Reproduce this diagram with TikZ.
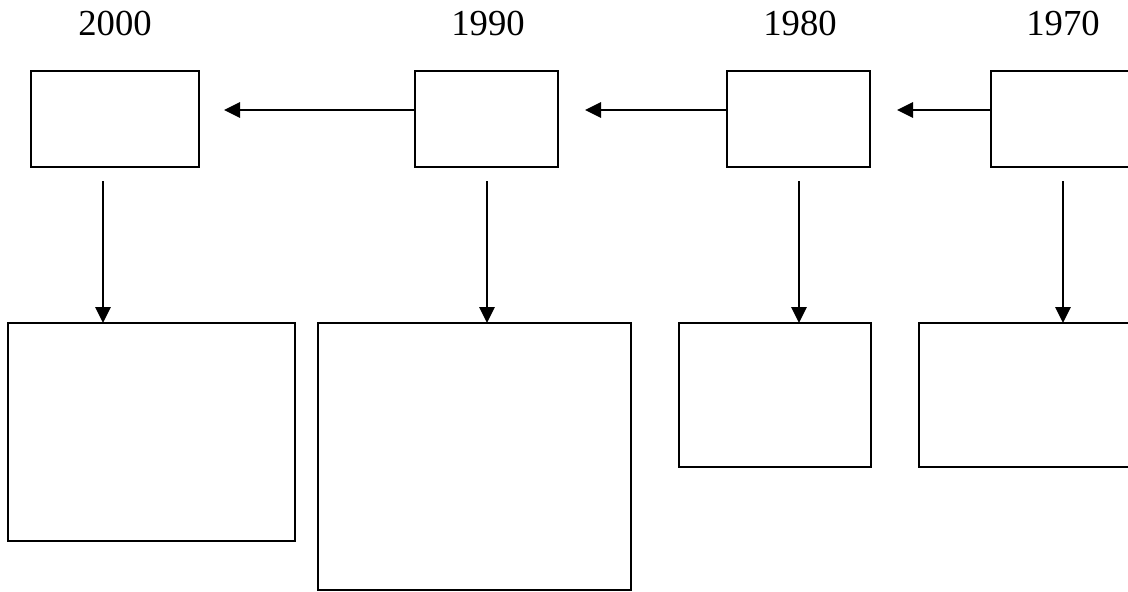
\documentclass[tikz,border=0pt]{standalone}
\usepackage{fontspec}
\setmainfont{Liberation Serif}
\usetikzlibrary{arrows.meta,positioning}
\tikzset{
	box/.style={draw,line width=1.4pt,inner sep=0pt,outer sep=0pt,minimum height=72pt},
	yr/.style={anchor=base,font=\fontsize{27.5}{30}\selectfont},
	arr/.style={line width=1.4pt,-{Triangle[length=12pt,width=11.5pt]}}
}
\begin{document}
\begin{tikzpicture}[x=0.75pt,y=-0.75pt]
\useasboundingbox (0,0) rectangle (1128,592);
\clip (0,0) rectangle (1128,592);
% top row
\node[box,minimum width=126pt] (t2000) at (115,119) {};
\node[box,minimum width=107.25pt] (t1990) at (486.5,119) {};
\node[box,minimum width=107.25pt] (t1980) at (798.5,119) {};
\node[box,minimum width=107.25pt] (t1970) at (1062.5,119) {};
% years
\node[yr] (y2000) at (115,36) {2000};
\node[yr] (y1990) at (488,36) {1990};
\node[yr] (y1980) at (800,36) {1980};
\node[yr] (y1970) at (1063,36) {1970};
% bottom row
\node[box,minimum width=215.25pt,minimum height=163.5pt] (b2000) at (151.5,432) {};
\node[box,minimum width=234.75pt,minimum height=200.25pt] (b1990) at (474.5,456.5) {};
\node[box,minimum width=144pt,minimum height=108pt] (b1980) at (775,395) {};
\node[box,minimum width=172.5pt,minimum height=108pt] (b1970) at (1034,395) {};
% free ends
\coordinate (h2000) at (224,110);
\coordinate (h1990) at (585,110);
\coordinate (h1980) at (897,110);
\coordinate (v2000) at (103,181);
\coordinate (v1990) at (487,181);
\coordinate (v1980) at (799,181);
\coordinate (v1970) at (1063,181);
% arrows
\draw[arr] (t1990.west |- h2000) -- (h2000);
\draw[arr] (t1980.west |- h1990) -- (h1990);
\draw[arr] (t1970.west |- h1980) -- (h1980);
\draw[arr] (v2000) -- (v2000 |- b2000.north);
\draw[arr] (v1990) -- (v1990 |- b1990.north);
\draw[arr] (v1980) -- (v1980 |- b1980.north);
\draw[arr] (v1970) -- (v1970 |- b1970.north);
\end{tikzpicture}
\end{document}
